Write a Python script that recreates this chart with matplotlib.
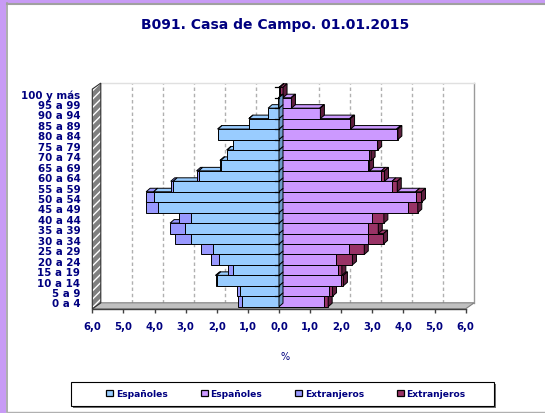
import matplotlib
matplotlib.use("Agg")
import matplotlib.pyplot as plt
from matplotlib.patches import Polygon, Rectangle, Patch
from matplotlib.transforms import offset_copy

# ---------------- data ----------------
ages = ["0 a 4", "5 a 9", "10 a 14", "15 a 19", "20 a 24", "25 a 29", "30 a 34",
        "35 a 39", "40 a 44", "45 a 49", "50 a 54", "55 a 59", "60 a 64", "65 a 69",
        "70 a 74", "75 a 79", "80 a 84", "85 a 89", "90 a 94", "95 a 99", "100 y más"]
men_esp = [1.20, 1.26, 2.00, 1.49, 1.93, 2.12, 2.84, 3.03, 2.84, 3.90, 4.03,
           3.40, 2.58, 1.87, 1.66, 1.47, 1.96, 0.96, 0.35, 0.02, 0.00]
men_ext = [0.12, 0.09, 0.04, 0.14, 0.24, 0.38, 0.51, 0.47, 0.36, 0.37, 0.24,
           0.08, 0.07, 0.03, 0.02, 0.01, 0.01, 0.01, 0.00, 0.00, 0.00]
women_esp = [1.45, 1.62, 1.99, 1.91, 1.84, 2.26, 2.86, 2.86, 2.99, 4.14, 4.39,
             3.63, 3.29, 2.86, 2.90, 3.14, 3.78, 2.27, 1.31, 0.39, 0.03]
women_ext = [0.13, 0.10, 0.08, 0.11, 0.52, 0.48, 0.50, 0.33, 0.38, 0.32, 0.19,
             0.17, 0.10, 0.05, 0.06, 0.03, 0.04, 0.03, 0.02, 0.01, 0.10]
xticks = [-6, -5, -4, -3, -2, -1, 0, 1, 2, 3, 4, 5, 6]
xticklabels = ["6,0", "5,0", "4,0", "3,0", "2,0", "1,0", "0,0",
               "1,0", "2,0", "3,0", "4,0", "5,0", "6,0"]
legend_labels = ["Españoles", "Españoles", "Extranjeros", "Extranjeros"]
title = "B091. Casa de Campo. 01.01.2015"

# ---------------- style ----------------
NAVY = "#000080"
C_MEN_ESP, S_MEN_ESP = "#99CCFF", "#6F9CCB"
C_MEN_EXT, S_MEN_EXT = "#9999FF", "#6F6FD0"
C_WOM_ESP, S_WOM_ESP = "#CC99FF", "#9A6ACB"
C_WOM_EXT, S_WOM_EXT = "#993366", "#5E1E3E"
FONT = "DejaVu Sans"

W, H = 545, 414
fig = plt.figure(figsize=(W / 100, H / 100), dpi=100)
fig.patch.set_facecolor("white")

# figure border decoration
fig.add_artist(Rectangle((0, 0), 6 / W, 1, transform=fig.transFigure,
                         facecolor="#C89BF5", edgecolor="none", zorder=0))
fig.add_artist(Rectangle((0, 1 - 3.5 / H), 1, 3.5 / H, transform=fig.transFigure,
                         facecolor="#C89BF5", edgecolor="none", zorder=0))
fig.add_artist(plt.Line2D([6.5 / W, 6.5 / W], [1.5 / H, 1 - 4 / H], transform=fig.transFigure,
                          color="#A0A0A0", lw=1.2))
fig.add_artist(plt.Line2D([6.5 / W, 1], [1 - 4.5 / H, 1 - 4.5 / H], transform=fig.transFigure,
                          color="#A0A0A0", lw=1.5))
fig.add_artist(plt.Line2D([6.5 / W, 1], [1.5 / H, 1.5 / H], transform=fig.transFigure,
                          color="#B0B0B0", lw=1.0))

# axes: x value units, y row units
x_left_px, x_right_px = 92.3, 465.7
y_bot_px, y_top_px = 309.8, 79.9
ax = fig.add_axes([x_left_px / W, (H - y_bot_px) / H,
                   (x_right_px - x_left_px) / W, (y_bot_px - y_top_px) / H])
ax.set_xlim(-6, 6)
ax.set_ylim(-0.7, 21.3)
ax.patch.set_alpha(0)
UX = 12 / (x_right_px - x_left_px)   # value units per pixel
UY = 22 / (y_bot_px - y_top_px)      # row units per pixel

DXW, DYW = 8.5 * UX, 6.0 * UY        # wall depth
DXB, DYB = 4.0 * UX, 3.5 * UY        # bar depth
y0 = -0.7
ytop_back = 20.9

# back wall & grid
ax.add_patch(Polygon([(-6 + DXW, y0 + DYW), (6 + DXW, y0 + DYW), (6 + DXW, ytop_back),
                      (-6 + DXW, ytop_back)], closed=True, facecolor="white",
                     edgecolor="none", zorder=1, clip_on=False))
for k in xticks:
    if k in (-6, 0):
        continue
    if k == 6:
        ax.plot([k + DXW, k + DXW], [y0 + DYW, ytop_back], color="#9A9A9A", lw=1.0,
                zorder=1.5, clip_on=False)
    else:
        ax.plot([k + DXW, k + DXW], [y0 + DYW, ytop_back], color="#B0B0B0", lw=1.0,
                ls=(0, (2.5, 2)), zorder=1.5, clip_on=False)
ax.plot([-6 + DXW, 6 + DXW], [ytop_back, ytop_back], color="#E0E0E0", lw=1.0,
        zorder=1.5, clip_on=False)

# left wall
wall = [(-6, y0), (-6 + DXW, y0 + DYW), (-6 + DXW, ytop_back), (-6, ytop_back - DYW)]
ax.add_patch(Polygon(wall, closed=True, facecolor="#808080", edgecolor="none",
                     zorder=2, clip_on=False))
ax.add_patch(Polygon(wall, closed=True, facecolor="none", edgecolor="white", lw=0,
                     hatch="////", zorder=2.1, clip_on=False))
ax.add_patch(Polygon(wall, closed=True, facecolor="none", edgecolor="#303030", lw=0.8,
                     zorder=2.2, clip_on=False))

# floor
ax.add_patch(Polygon([(-6, y0), (6, y0), (6 + DXW, y0 + DYW), (-6 + DXW, y0 + DYW)],
                     closed=True, facecolor="#C0C0C0", edgecolor="#808080", lw=0.8,
                     zorder=2, clip_on=False))


def block(xa, xb, y, face, side, side_on, z):
    lo, hi = y - 0.5, y + 0.5
    kw = dict(closed=True, edgecolor="black", lw=0.7, clip_on=False, zorder=z)
    ax.add_patch(Polygon([(xa, lo), (xb, lo), (xb, hi), (xa, hi)], facecolor=face, **kw))
    ax.add_patch(Polygon([(xa, hi), (xb, hi), (xb + DXB, hi + DYB), (xa + DXB, hi + DYB)],
                         facecolor=face, **kw))
    if side_on:
        ax.add_patch(Polygon([(xb, lo), (xb + DXB, lo + DYB), (xb + DXB, hi + DYB), (xb, hi)],
                             facecolor=side, **kw))


# right bars (women)
for i in range(len(ages)):
    e, x = women_esp[i], women_ext[i]
    z = 3 + i * 0.01
    if e > 0:
        block(0, e, i, C_WOM_ESP, S_WOM_ESP, x <= 0, z)
    if x > 0:
        block(e, e + x, i, C_WOM_EXT, S_WOM_EXT, True, z + 0.001)

# left bars (men)
for i in range(len(ages)):
    e, x = men_esp[i], men_ext[i]
    z = 4 + i * 0.01
    if x > 0:
        block(-(e + x), -e, i, C_MEN_EXT, S_MEN_EXT, False, z)
    if e > 0:
        block(-e, 0, i, C_MEN_ESP, S_MEN_ESP, True, z + 0.001)
    # small axis tick at center
    ax.plot([-0.13, 0], [i + 0.5, i + 0.5], color="black", lw=0.9, zorder=5,
            clip_on=False)

# axis / ticks
for s in ("left", "right", "top"):
    ax.spines[s].set_visible(False)
ax.spines["bottom"].set_color("#404040")
ax.spines["bottom"].set_linewidth(1.0)
ax.set_xticks(xticks)
ax.set_xticklabels(xticklabels, fontsize=7.3, fontweight="bold", color=NAVY, family=FONT)
ax.tick_params(axis="x", direction="out", length=3, width=1.0, color="#404040", pad=6)
ax.set_yticks([])

lab_tr = offset_copy(ax.transData, fig=fig, x=-12, y=-2, units="dots")
for i, lab in enumerate(ages):
    ax.text(-6, i, lab, transform=lab_tr, ha="right", va="center", fontsize=7.4,
            fontweight="bold", color=NAVY, family=FONT, clip_on=False)

fig.text(275 / W, 1 - 25 / H, title, ha="center", va="center", fontsize=10,
         fontweight="bold", color=NAVY, family=FONT)
fig.text(285 / W, 1 - 357 / H, "%", ha="center", va="center", fontsize=7,
         color=NAVY, family=FONT)

# legend box (shadow + frame) and entries
fig.add_artist(Rectangle((73 / W, (H - 408.5) / H), 423 / W, 23.5 / H,
                         transform=fig.transFigure, facecolor="#707070",
                         edgecolor="none", zorder=6))
fig.add_artist(Rectangle((71 / W, (H - 406.5) / H), 423 / W, 23.5 / H,
                         transform=fig.transFigure, facecolor="white",
                         edgecolor="black", lw=0.8, zorder=6.1))
handles = [Patch(facecolor=c, edgecolor="black", lw=0.9)
           for c in (C_MEN_ESP, C_WOM_ESP, C_MEN_EXT, C_WOM_EXT)]
leg = fig.legend(handles, legend_labels, ncol=4, loc="center",
                 bbox_to_anchor=(286 / W, 1 - 394.7 / H),
                 frameon=False, columnspacing=3.6,
                 handlelength=0.75, handleheight=0.75, handletextpad=0.3,
                 borderpad=0.2, prop=dict(family=FONT, weight="bold", size=6.6))
leg.set_zorder(7)
for t in leg.get_texts():
    t.set_color(NAVY)

fig.savefig("out.png", dpi=100)
